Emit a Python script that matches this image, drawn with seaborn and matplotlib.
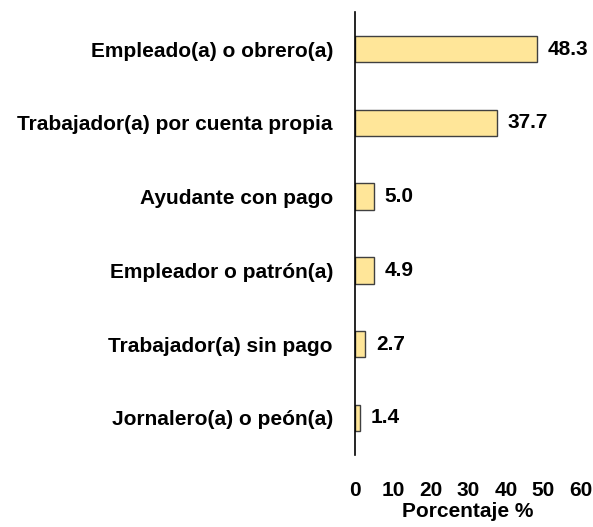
import pandas as pd
import matplotlib.pyplot as plt
import seaborn as sns

categorias = ['Empleado(a) o obrero(a)', 'Trabajador(a) por cuenta propia',
              'Ayudante con pago', 'Empleador o patrón(a)',
              'Trabajador(a) sin pago', 'Jornalero(a) o peón(a)']
porcentajes = [48.3, 37.7, 5.0, 4.9, 2.7, 1.4]
ticks_x = [0, 10, 20, 30, 40, 50, 60]

df = pd.DataFrame({'categoria': categorias, 'porcentaje': porcentajes})

sns.set_style('white')
plt.rcParams['font.family'] = ['Liberation Sans', 'DejaVu Sans']
plt.rcParams['text.color'] = 'black'

fig = plt.figure(figsize=(5.93, 5.27), dpi=100)
ax = fig.add_axes([0.599, 0.137, 0.381, 0.84])
sns.barplot(data=df, x='porcentaje', y='categoria', orient='h',
            color='#FFE699', edgecolor='#404040', linewidth=1.0,
            width=0.36, saturation=1, ax=ax)

for i, v in enumerate(porcentajes):
    ax.text(v + 2.8, i, f'{v:.1f}', va='center', ha='left',
            fontsize=15, fontweight='bold', color='black')

ax.set_xlim(0, 60)
ax.set_ylim(5.5, -0.5)
ax.set_xticks(ticks_x)
ax.set_xticklabels([str(t) for t in ticks_x], fontsize=15, fontweight='bold')
ax.tick_params(axis='x', length=0, pad=19, colors='black')
ax.tick_params(axis='y', length=0, pad=16, colors='black')
for lbl in ax.get_yticklabels():
    lbl.set_fontsize(15)
    lbl.set_fontweight('bold')
ax.set_ylabel('')
ax.set_xlabel('Porcentaje %', fontsize=15, fontweight='bold', labelpad=1,
              color='black')

for s in ['top', 'right', 'bottom']:
    ax.spines[s].set_visible(False)
ax.spines['left'].set_color('black')
ax.spines['left'].set_linewidth(1.2)

fig.savefig('out.png', dpi=100)
